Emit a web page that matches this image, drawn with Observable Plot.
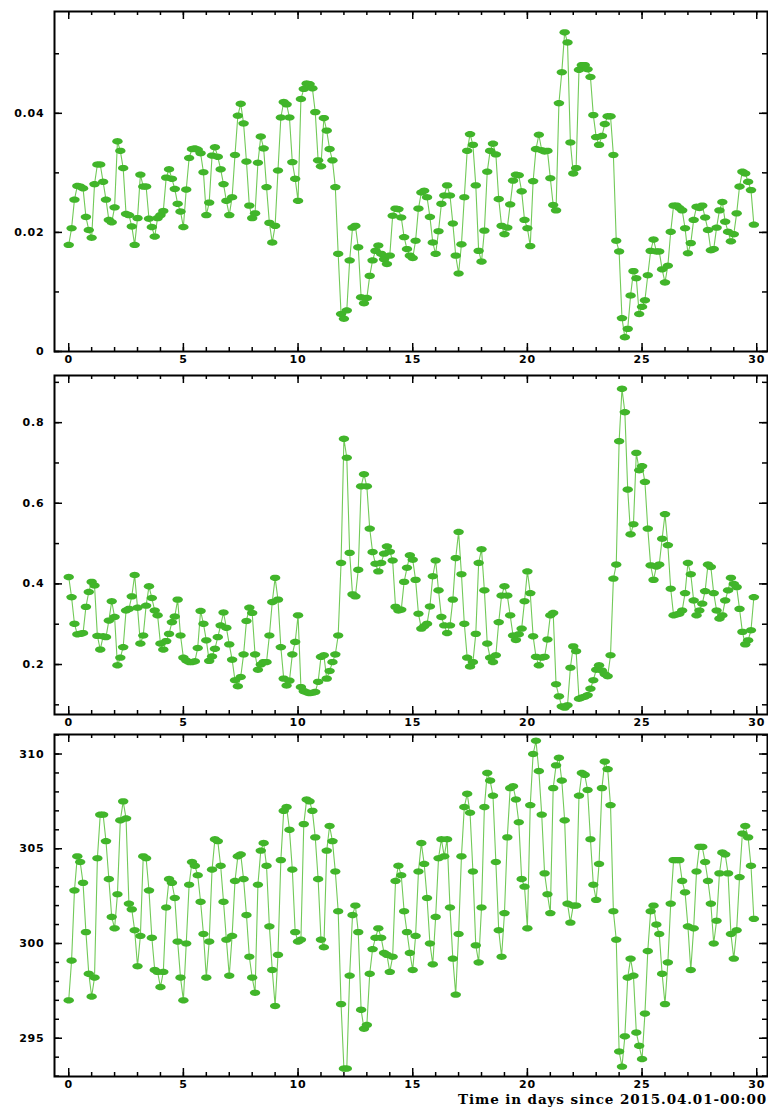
<!DOCTYPE html>
<html>
<head>
<meta charset="utf-8">
<script src="https://cdn.jsdelivr.net/npm/d3@7"></script>
<script src="https://cdn.jsdelivr.net/npm/@observablehq/plot@0.6"></script>
<style>
  html, body { margin: 0; padding: 0; background: #fff; }
  #wrap { position: relative; width: 768px; height: 1108px; overflow: hidden; }
  .panel { position: absolute; left: 0; }
  #xtitle { position: absolute; right: 1px; top: 1091px; font: bold 13.5px "DejaVu Serif", serif; color: #000; white-space: nowrap; letter-spacing: 0.9px; }
</style>
</head>
<body>
<div id="wrap"></div>
<script>
// ---------------- data (3-hourly samples, day = index * STEP) ----------------
const STEP = 0.125; // days between samples
const xMajorTicks = [0, 5, 10, 15, 20, 25, 30];
const xMinorTicks = d3.range(0, 31, 1);
const xTitle = "Time in days since 2015.04.01-00:00";

const seriesTop = [
  0.0179, 0.0207, 0.0255, 0.0278, 0.0277, 0.0274, 0.0226, 0.0204,
  0.0191, 0.0281, 0.0314, 0.0314, 0.0285, 0.0255, 0.0221, 0.0217,
  0.0242, 0.0353, 0.0337, 0.0308, 0.0231, 0.0229, 0.0210, 0.0179,
  0.0224, 0.0297, 0.0277, 0.0277, 0.0223, 0.0209, 0.0193, 0.0224,
  0.0229, 0.0236, 0.0292, 0.0306, 0.0290, 0.0273, 0.0248, 0.0235,
  0.0209, 0.0272, 0.0325, 0.0340, 0.0341, 0.0339, 0.0333, 0.0301,
  0.0229, 0.0250, 0.0329, 0.0343, 0.0327, 0.0306, 0.0281, 0.0253,
  0.0229, 0.0259, 0.0330, 0.0396, 0.0416, 0.0383, 0.0319, 0.0245,
  0.0224, 0.0232, 0.0317, 0.0361, 0.0341, 0.0276, 0.0216, 0.0183,
  0.0211, 0.0304, 0.0393, 0.0419, 0.0415, 0.0393, 0.0318, 0.0290,
  0.0253, 0.0424, 0.0441, 0.0450, 0.0449, 0.0442, 0.0402, 0.0321,
  0.0311, 0.0392, 0.0371, 0.0340, 0.0321, 0.0276, 0.0164, 0.0063,
  0.0055, 0.0069, 0.0153, 0.0208, 0.0211, 0.0175, 0.0091, 0.0081,
  0.0090, 0.0127, 0.0153, 0.0169, 0.0178, 0.0164, 0.0155, 0.0147,
  0.0161, 0.0228, 0.0240, 0.0239, 0.0225, 0.0192, 0.0172, 0.0161,
  0.0157, 0.0186, 0.0240, 0.0267, 0.0270, 0.0259, 0.0226, 0.0183,
  0.0164, 0.0202, 0.0248, 0.0262, 0.0279, 0.0262, 0.0215, 0.0161,
  0.0131, 0.0180, 0.0259, 0.0337, 0.0365, 0.0347, 0.0279, 0.0169,
  0.0151, 0.0203, 0.0302, 0.0337, 0.0349, 0.0331, 0.0256, 0.0211,
  0.0197, 0.0208, 0.0247, 0.0287, 0.0297, 0.0296, 0.0269, 0.0221,
  0.0207, 0.0177, 0.0286, 0.0340, 0.0364, 0.0338, 0.0336, 0.0337,
  0.0291, 0.0246, 0.0237, 0.0417, 0.0469, 0.0536, 0.0519, 0.0351,
  0.0299, 0.0308, 0.0473, 0.0481, 0.0481, 0.0474, 0.0461, 0.0397,
  0.0360, 0.0347, 0.0362, 0.0382, 0.0395, 0.0395, 0.0330, 0.0186,
  0.0168, 0.0056, 0.0024, 0.0038, 0.0094, 0.0135, 0.0123, 0.0063,
  0.0075, 0.0086, 0.0128, 0.0169, 0.0188, 0.0168, 0.0168, 0.0138,
  0.0116, 0.0144, 0.0201, 0.0245, 0.0245, 0.0241, 0.0237, 0.0207,
  0.0165, 0.0182, 0.0221, 0.0243, 0.0241, 0.0245, 0.0225, 0.0204,
  0.0170, 0.0172, 0.0208, 0.0237, 0.0251, 0.0218, 0.0201, 0.0185,
  0.0197, 0.0232, 0.0277, 0.0302, 0.0299, 0.0285, 0.0271, 0.0213
];
const topYMajor = [0, 0.02, 0.04];
const topYMinor = [0, 0.01, 0.02, 0.03, 0.04, 0.05];

const seriesMiddle = [
  0.417, 0.367, 0.301, 0.275, 0.276, 0.278, 0.343, 0.380,
  0.405, 0.396, 0.271, 0.237, 0.270, 0.268, 0.309, 0.357,
  0.318, 0.198, 0.217, 0.243, 0.334, 0.338, 0.369, 0.422,
  0.341, 0.252, 0.272, 0.346, 0.394, 0.365, 0.334, 0.322,
  0.252, 0.237, 0.258, 0.276, 0.305, 0.319, 0.361, 0.272,
  0.217, 0.210, 0.206, 0.206, 0.208, 0.241, 0.333, 0.301,
  0.260, 0.209, 0.220, 0.239, 0.268, 0.297, 0.329, 0.291,
  0.250, 0.212, 0.161, 0.146, 0.169, 0.225, 0.308, 0.341,
  0.328, 0.225, 0.187, 0.200, 0.206, 0.206, 0.272, 0.355,
  0.415, 0.361, 0.243, 0.165, 0.148, 0.160, 0.225, 0.256,
  0.322, 0.144, 0.134, 0.131, 0.129, 0.130, 0.132, 0.157,
  0.219, 0.223, 0.165, 0.184, 0.206, 0.225, 0.272, 0.452,
  0.760, 0.713, 0.477, 0.374, 0.369, 0.435, 0.642, 0.672,
  0.642, 0.537, 0.479, 0.450, 0.431, 0.452, 0.475, 0.493,
  0.480, 0.458, 0.343, 0.334, 0.336, 0.405, 0.440, 0.471,
  0.460, 0.410, 0.326, 0.289, 0.295, 0.301, 0.344, 0.419,
  0.458, 0.384, 0.318, 0.297, 0.278, 0.297, 0.361, 0.464,
  0.529, 0.424, 0.301, 0.217, 0.195, 0.206, 0.276, 0.452,
  0.486, 0.384, 0.252, 0.217, 0.206, 0.223, 0.305, 0.371,
  0.394, 0.371, 0.322, 0.272, 0.261, 0.275, 0.289, 0.357,
  0.431, 0.377, 0.270, 0.219, 0.198, 0.217, 0.219, 0.262,
  0.322, 0.328, 0.151, 0.121, 0.096, 0.093, 0.099, 0.192,
  0.245, 0.233, 0.115, 0.118, 0.120, 0.124, 0.140, 0.161,
  0.187, 0.198, 0.185, 0.176, 0.171, 0.223, 0.413, 0.448,
  0.754, 0.884, 0.826, 0.634, 0.523, 0.548, 0.725, 0.682,
  0.692, 0.653, 0.537, 0.446, 0.410, 0.443, 0.448, 0.512,
  0.573, 0.496, 0.388, 0.322, 0.324, 0.326, 0.334, 0.377,
  0.452, 0.424, 0.359, 0.322, 0.334, 0.351, 0.382, 0.448,
  0.442, 0.377, 0.334, 0.314, 0.322, 0.359, 0.384, 0.415,
  0.400, 0.392, 0.338, 0.281, 0.250, 0.260, 0.285, 0.367
];
const middleYMajor = [0.2, 0.4, 0.6, 0.8];
const middleYMinor = [0.1, 0.2, 0.3, 0.4, 0.5, 0.6, 0.7, 0.8, 0.9];

const seriesBottom = [
  297.0, 299.1, 302.8, 304.6, 304.3, 303.2, 300.6, 298.4,
  297.2, 298.2, 304.5, 306.8, 306.8, 305.4, 303.4, 301.4,
  300.8, 302.6, 306.5, 307.5, 306.6, 302.1, 301.8, 300.7,
  298.8, 300.4, 304.6, 304.5, 302.8, 300.3, 298.6, 298.5,
  297.7, 298.5, 301.9, 303.4, 303.2, 302.4, 300.1, 298.2,
  297.0, 300.0, 303.1, 304.3, 304.1, 303.6, 302.2, 300.5,
  298.2, 300.1, 303.9, 305.5, 305.4, 304.1, 302.2, 300.2,
  298.3, 300.4, 303.3, 304.6, 304.7, 303.4, 301.5, 299.3,
  298.2, 297.4, 303.1, 304.9, 305.3, 304.1, 300.9, 298.6,
  296.7, 299.4, 304.4, 307.0, 307.2, 306.0, 303.9, 300.6,
  300.1, 300.2, 306.3, 307.6, 307.5, 307.0, 305.6, 303.4,
  300.2, 299.8, 304.9, 306.2, 305.4, 303.8, 301.7, 296.8,
  293.4, 293.4, 298.3, 301.5, 302.0, 300.6, 296.5, 295.5,
  295.7, 298.4, 299.7, 300.3, 300.8, 300.3, 299.5, 299.4,
  298.5, 299.3, 303.3, 304.1, 303.6, 301.7, 300.6, 299.5,
  298.6, 300.4, 303.8, 305.3, 304.2, 302.4, 300.0, 298.9,
  301.4, 304.5, 305.5, 304.6, 305.5, 301.9, 299.2, 297.3,
  300.5, 304.6, 307.2, 307.9, 306.9, 303.8, 299.9, 299.0,
  301.9, 307.2, 309.0, 308.6, 307.8, 304.3, 300.7, 299.3,
  301.6, 305.6, 308.2, 308.3, 307.6, 306.4, 303.4, 303.0,
  300.8, 307.3, 310.0, 310.7, 309.1, 306.8, 303.7, 302.6,
  301.6, 308.2, 309.4, 309.8, 308.6, 306.5, 302.1, 301.1,
  302.0, 302.0, 307.8, 309.0, 308.9, 308.1, 305.5, 303.1,
  302.3, 304.2, 308.2, 309.6, 309.2, 307.3, 301.7, 300.2,
  294.3, 293.5, 295.1, 298.2, 299.2, 298.3, 295.3, 294.6,
  293.9, 296.3, 299.6, 301.7, 302.0, 301.0, 300.5, 298.4,
  296.8, 299.0, 302.1, 304.4, 304.4, 304.4, 303.3, 302.7,
  300.9, 298.6, 300.8, 303.8, 305.1, 305.1, 304.3, 303.3,
  302.1, 300.0, 301.2, 303.7, 304.8, 304.7, 303.7, 300.5,
  299.2, 300.7, 303.5, 305.8, 306.2, 305.6, 304.1, 301.3
];
const bottomYMajor = [295, 300, 305, 310];
const bottomYMinor = d3.range(293, 312, 1);

// ---------------- styling ----------------
const DOT_COLOR = "#41b52a";
const LINE_COLOR = "#72ca58";
const WIDTH = 768, ML = 54, MR = 1;
const X_DOMAIN = [-0.62, 30.47];

const ellipseSymbol = {
  draw(ctx) {
    const rx = 5.2, ry = 3.2, n = 24;
    for (let k = 0; k < n; k++) {
      const a = 2 * Math.PI * k / n;
      const px = rx * Math.cos(a), py = ry * Math.sin(a);
      if (k === 0) ctx.moveTo(px, py); else ctx.lineTo(px, py);
    }
    ctx.closePath();
  }
};

function makePanel({values, yDomain, yMajor, yMinor, height, marginTop, marginBottom}) {
  const data = values.map((v, i) => ({t: i * STEP, v}));
  const innerW = WIDTH - ML - MR;
  const innerH = height - marginTop - marginBottom;
  return Plot.plot({
    width: WIDTH, height, marginLeft: ML, marginRight: MR, marginTop, marginBottom,
    style: {background: "none", overflow: "visible", fontFamily: "'DejaVu Sans', sans-serif", fontSize: "11px", fontWeight: "bold", letterSpacing: "0.8px", color: "#000"},
    x: {domain: X_DOMAIN},
    y: {domain: yDomain},
    marks: [
      Plot.line(data, {x: "t", y: "v", stroke: LINE_COLOR, strokeWidth: 1.1}),
      Plot.dot(data, {x: "t", y: "v", symbol: ellipseSymbol, fill: DOT_COLOR, stroke: "none"}),
      // inward ticks, bottom & top
      Plot.tickX(xMinorTicks, {stroke: "#000", strokeWidth: 1.5, insetTop: innerH - 4}),
      Plot.tickX(xMajorTicks, {stroke: "#000", strokeWidth: 1.5, insetTop: innerH - 8}),
      Plot.tickX(xMinorTicks, {stroke: "#000", strokeWidth: 1.5, insetBottom: innerH - 4}),
      Plot.tickX(xMajorTicks, {stroke: "#000", strokeWidth: 1.5, insetBottom: innerH - 8}),
      // inward ticks, left & right
      Plot.tickY(yMinor, {stroke: "#000", strokeWidth: 1.5, insetRight: innerW - 5}),
      Plot.tickY(yMajor, {stroke: "#000", strokeWidth: 1.5, insetRight: innerW - 8}),
      Plot.tickY(yMinor, {stroke: "#000", strokeWidth: 1.5, insetLeft: innerW - 5}),
      Plot.tickY(yMajor, {stroke: "#000", strokeWidth: 1.5, insetLeft: innerW - 8}),
      Plot.axisX(xMajorTicks, {anchor: "bottom", tickSize: 0, tickPadding: 4, label: null, fontWeight: "bold", tickFormat: d => String(d)}),
      Plot.axisY(yMajor, {anchor: "left", tickSize: 0, tickPadding: 10, label: null, fontWeight: "bold", tickFormat: d => String(d)}),
      Plot.frame({stroke: "#000", strokeWidth: 2})
    ]
  });
}

const wrap = document.getElementById("wrap");
const panels = [
  {top: 0,   values: seriesTop,    yDomain: [0, 0.0571],      yMajor: topYMajor,    yMinor: topYMinor,    height: 366, marginTop: 11, marginBottom: 15},
  {top: 366, values: seriesMiddle, yDomain: [0.076, 0.917],   yMajor: middleYMajor, yMinor: middleYMinor, height: 361, marginTop: 9,  marginBottom: 13},
  {top: 727, values: seriesBottom, yDomain: [292.98, 311.03], yMajor: bottomYMajor, yMinor: bottomYMinor, height: 365, marginTop: 7,  marginBottom: 16}
];
for (const p of panels) {
  const div = document.createElement("div");
  div.className = "panel";
  div.style.top = p.top + "px";
  div.appendChild(makePanel(p));
  wrap.appendChild(div);
}
const title = document.createElement("div");
title.id = "xtitle";
title.textContent = xTitle;
wrap.appendChild(title);
</script>
</body>
</html>
